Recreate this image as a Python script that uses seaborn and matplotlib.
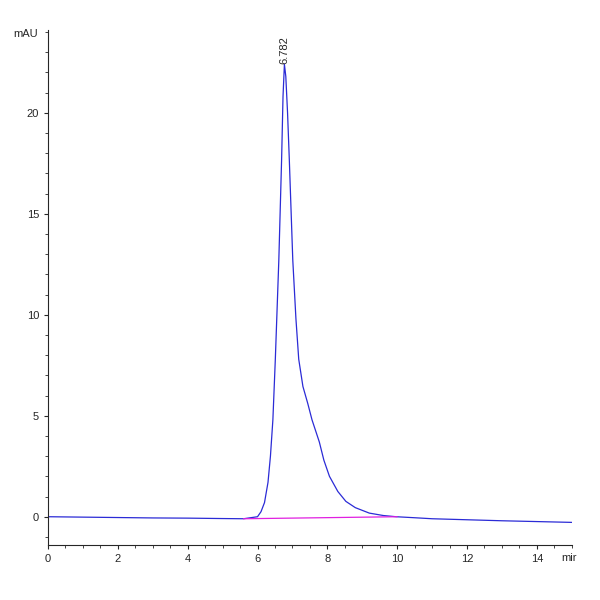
import matplotlib
matplotlib.use("Agg")
import matplotlib.pyplot as plt
import seaborn as sns
import pandas as pd
from matplotlib.ticker import MultipleLocator

time_min = [0, 1, 2, 3, 4, 5, 5.6, 6.0, 6.1, 6.2, 6.3, 6.37, 6.44, 6.51, 6.61, 6.69, 6.73, 6.77,
            6.81, 6.86, 6.91, 7.01, 7.1, 7.18, 7.3, 7.44, 7.56, 7.77, 7.9, 8.06, 8.3,
            8.53, 8.8, 9.2, 9.6, 9.97, 10.5, 11, 12, 13, 14, 15]
signal_mau = [0.0, -0.02, -0.04, -0.06, -0.07, -0.09, -0.1, 0.0, 0.25, 0.7, 1.7, 3.0, 4.8, 7.8, 12.7, 17.7, 20.8, 22.4,
              21.8, 20.0, 17.7, 12.7, 9.8, 7.8, 6.45, 5.6, 4.8, 3.7, 2.8, 2.0, 1.25,
              0.76, 0.45, 0.18, 0.06, 0.0, -0.05, -0.1, -0.15, -0.2, -0.24, -0.28]
base_t = [5.6, 10.0]
base_v = [-0.1, 0.0]
peak_rt = 6.782
peak_label = "6.782"

df = pd.DataFrame({"t": time_min, "v": signal_mau})
bdf = pd.DataFrame({"t": base_t, "v": base_v})

sns.set_style("ticks")
plt.rcParams['font.family'] = ['Liberation Sans', 'DejaVu Sans']
fig = plt.figure(figsize=(6, 6), dpi=100)
ax = fig.add_axes([0.08, 0.092, 0.873, 0.858])
sns.lineplot(data=df, x="t", y="v", ax=ax, color="#2b2bd6", linewidth=0.9)
sns.lineplot(data=bdf, x="t", y="v", ax=ax, color="#e020e0", linewidth=0.9)
ax.set_xlim(0, 15)
ax.set_ylim(-1.39, 24.1)
ax.xaxis.set_major_locator(MultipleLocator(2))
ax.xaxis.set_minor_locator(MultipleLocator(0.5))
ax.yaxis.set_major_locator(MultipleLocator(5))
ax.yaxis.set_minor_locator(MultipleLocator(1))
ax.tick_params(labelsize=8, length=3, width=0.8, direction="out")
ax.tick_params(which="minor", length=2, width=0.6)
ax.set_xlabel("")
ax.set_ylabel("")
sns.despine(ax=ax)
ax.text(peak_rt, 22.4, peak_label, rotation=90, ha="center", va="bottom", fontsize=8)
ax.text(-0.3, 23.9, "mAU", ha="right", va="center", fontsize=8)
ax.text(14.7, -2.05, "mir", ha="left", va="center", fontsize=8)
fig.savefig("out.png", dpi=100)
